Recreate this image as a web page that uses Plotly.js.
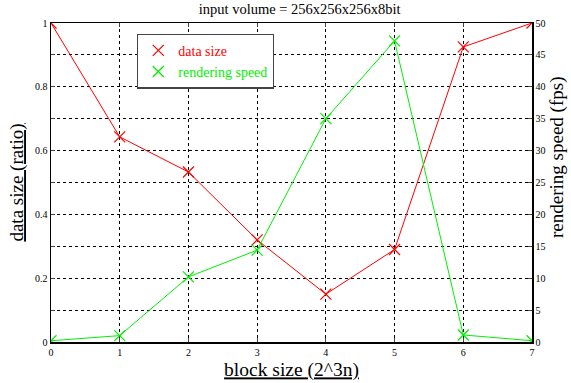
<!DOCTYPE html>
<html><head><meta charset="utf-8">
<script src="https://cdn.plot.ly/plotly-3.0.1.min.js"></script>
<style>html,body{margin:0;padding:0;background:#fff}#chart{width:571px;height:383px}</style>
</head><body><div id="chart"></div>
<script>
const blockSize = [0, 1, 2, 3, 4, 5, 6, 7];
const dataSize = [1.0, 0.643, 0.533, 0.32, 0.15, 0.29, 0.925, 1.0];
const renderSpeed = [0.2, 1.0, 10.2, 14.4, 35.0, 47.2, 1.1, 0.2];
const leftTickVals = [0, 0.1, 0.2, 0.3, 0.4, 0.5, 0.6, 0.7, 0.8, 0.9, 1];
const leftTickText = ['0', '', '0.2', '', '0.4', '', '0.6', '', '0.8', '', '1'];
const rightTickVals = [0, 5, 10, 15, 20, 25, 30, 35, 40, 45, 50];
const xTickVals = [0, 1, 2, 3, 4, 5, 6, 7];

const F = 'Liberation Serif, Times New Roman, Times, serif';
const RED = '#ff0000', GREEN = '#00f000';
const traces = [
  {x: blockSize, y: dataSize, mode: 'lines', yaxis: 'y', showlegend: false, line: {color: RED, width: 1}},
  {x: blockSize, y: renderSpeed, mode: 'lines', yaxis: 'y2', showlegend: false, line: {color: GREEN, width: 1}},
  {x: blockSize, y: dataSize, name: '<span style="color:#ff0000">data size</span>', mode: 'markers', yaxis: 'y',
   marker: {symbol: 'x-thin-open', size: 11, color: RED, line: {color: RED, width: 1.2}}},
  {x: blockSize, y: renderSpeed, name: '<span style="color:#00f000">rendering speed</span>', mode: 'markers', yaxis: 'y2',
   marker: {symbol: 'x-thin-open', size: 11, color: GREEN, line: {color: GREEN, width: 1.2}}}
];
const layout = {
  width: 571, height: 383,
  margin: {l: 51, r: 39, t: 23, b: 41},
  paper_bgcolor: '#fff', plot_bgcolor: '#fff',
  font: {family: F, color: '#000', size: 10},
  title: {text: 'input volume = 256x256x256x8bit', font: {size: 14.5, family: F}, x: 0.517, xref: 'paper', y: 0.99, yanchor: 'top'},
  showlegend: true,
  legend: {x: 0.179, y: 0.967, xanchor: 'left', yanchor: 'top', bgcolor: '#fff', bordercolor: '#444', borderwidth: 1.2,
           font: {size: 14, family: F}, tracegroupgap: 0, itemwidth: 30},
  xaxis: {range: [0, 7], tickvals: xTickVals, ticks: 'inside', ticklen: 4, showline: true, linecolor: '#000', linewidth: 1.5,
          mirror: 'ticks', showgrid: true, gridcolor: '#000', griddash: 'dot', gridwidth: 1, zeroline: false,
          tickfont: {size: 10, family: F},
          title: {text: '<u>block size (2^3n)</u>', font: {size: 19.5, family: F}, standoff: 6}},
  yaxis: {range: [0, 1], tickvals: leftTickVals, ticktext: leftTickText, ticks: 'inside', ticklen: 4, showline: true, linecolor: '#000', linewidth: 1.5,
          showgrid: true, gridcolor: '#000', griddash: 'dot', gridwidth: 1, zeroline: false,
          tickfont: {size: 10, family: F},
          title: {text: '<u>data size (ratio)</u>', font: {size: 19, family: F}, standoff: 6}},
  yaxis2: {range: [0, 50], tickvals: rightTickVals, overlaying: 'y', side: 'right', ticks: 'inside', ticklen: 4,
           showline: true, linecolor: '#000', linewidth: 1.5, showgrid: false, zeroline: false,
           tickfont: {size: 10, family: F}},
  annotations: [{text: 'rendering speed (fps)', xref: 'paper', yref: 'paper', x: 1.079, y: 0.58, xanchor: 'right', yanchor: 'middle',
                 textangle: -90, showarrow: false, font: {size: 19, family: F}}]
};
Plotly.newPlot('chart', traces, layout, {displayModeBar: false, staticPlot: true});
</script></body></html>
